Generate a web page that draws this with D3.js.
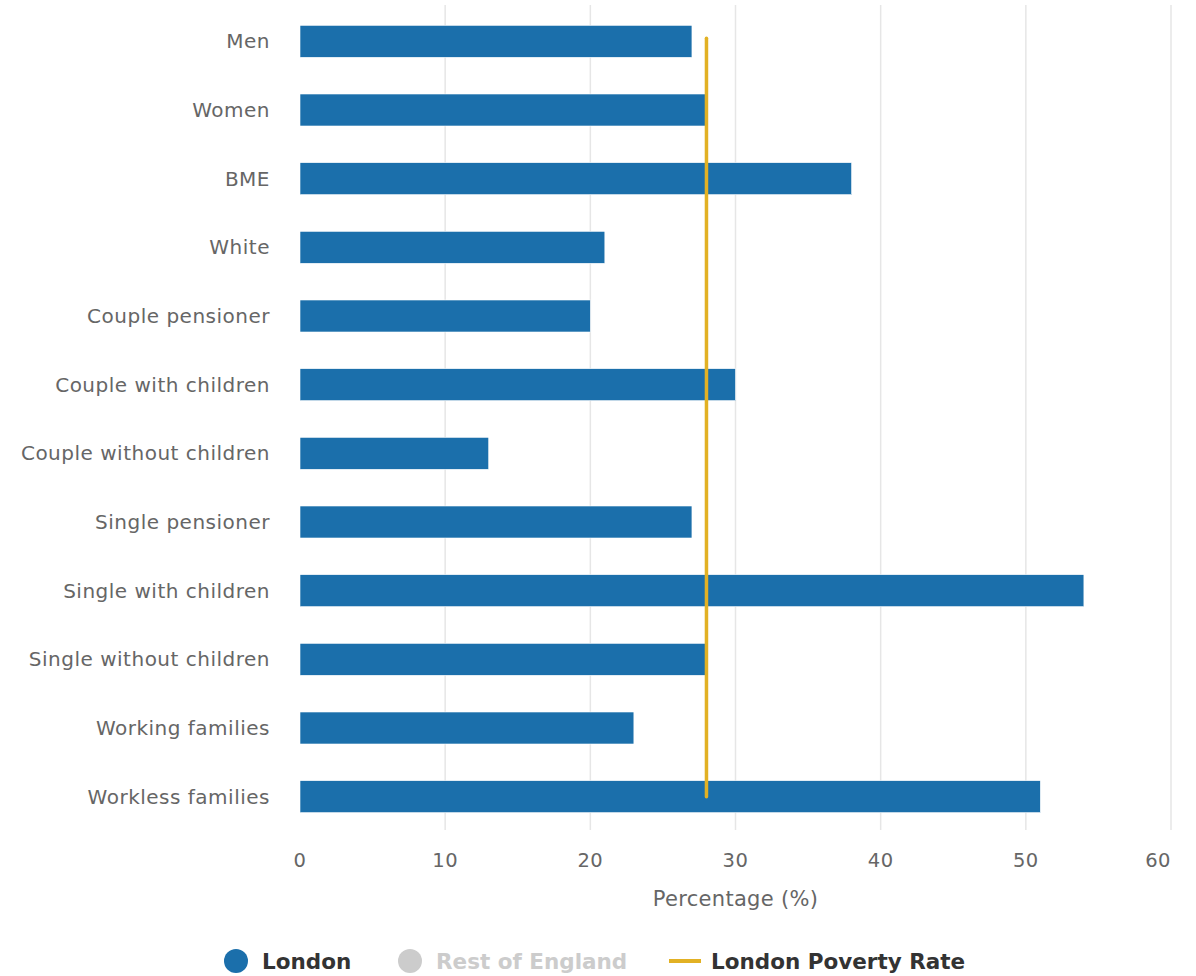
<!DOCTYPE html>
<html>
<head>
<meta charset="utf-8">
<script src="https://cdn.jsdelivr.net/npm/d3@7"></script>
<style>
  html, body { margin: 0; padding: 0; background: #fff; }
  svg { display: block; font-family: "DejaVu Sans", "Noto Sans", sans-serif; }
</style>
</head>
<body>
<svg id="chart" width="1196" height="976"></svg>
<script>
const categories = ["Men", "Women", "BME", "White", "Couple pensioner", "Couple with children",
  "Couple without children", "Single pensioner", "Single with children", "Single without children",
  "Working families", "Workless families"];
const londonValues = [27, 28, 38, 21, 20, 30, 13, 27, 54, 28, 23, 51];
const povertyRate = [28, 28, 28, 28, 28, 28, 28, 28, 28, 28, 28, 28];
const xTicks = [0, 10, 20, 30, 40, 50, 60];
const legendItems = ["London", "Rest of England", "London Poverty Rate"];
const axisTitle = "Percentage (%)";

(function () {
const svg = d3.select("#chart");
const pLeft = 300, pRight = 1171, pTop = 7, pBottom = 831;

const x = d3.scaleLinear().domain([0, 60]).range([pLeft, pRight]);
const y = d3.scaleBand().domain(categories).range([pTop, pBottom]);

const blue = "#1b6fab", gold = "#e2b124";

// gridlines
svg.append("g").selectAll("line").data(xTicks.filter(d => d !== 0)).join("line")
  .attr("x1", d => x(d)).attr("x2", d => x(d))
  .attr("y1", 5).attr("y2", 830)
  .attr("stroke", "#e6e6e6").attr("stroke-width", 1.5);

// bars
const barH = 32;
svg.append("g").selectAll("rect").data(categories).join("rect")
  .attr("x", x(0))
  .attr("y", (d) => y(d) + y.bandwidth() / 2 - barH / 2)
  .attr("width", (d, i) => x(londonValues[i]) - x(0))
  .attr("height", barH)
  .attr("fill", blue)
  .attr("stroke", "#ffffff").attr("stroke-width", 0.6);

// poverty line
const line = d3.line()
  .x((d) => x(d))
  .y((d, i) => y(categories[i]) + y.bandwidth() / 2 - 3 * (1 - i / (categories.length - 1)));
svg.append("path").datum(povertyRate)
  .attr("d", line)
  .attr("fill", "none").attr("stroke", gold).attr("stroke-width", 3.5)
  .attr("stroke-linecap", "round");

// category labels
svg.append("g").selectAll("text").data(categories).join("text")
  .attr("x", 270)
  .attr("y", d => y(d) + y.bandwidth() / 2)
  .attr("dy", "0.35em")
  .attr("text-anchor", "end")
  .attr("font-size", 20)
  .attr("letter-spacing", 0.5)
  .attr("fill", "#666666")
  .text(d => d);

// x axis labels
svg.append("g").selectAll("text").data(xTicks).join("text")
  .attr("x", d => x(d))
  .attr("y", 867)
  .attr("text-anchor", (d, i) => i === xTicks.length - 1 ? "end" : "middle")
  .attr("font-size", 19.5)
  .attr("letter-spacing", 0.5)
  .attr("fill", "#666666")
  .text(d => d);

svg.append("text")
  .attr("x", (pLeft + pRight) / 2)
  .attr("y", 906)
  .attr("text-anchor", "middle")
  .attr("font-size", 21)
  .attr("letter-spacing", 0.3)
  .attr("fill", "#666666")
  .text(axisTitle);

// legend
const lg = svg.append("g").attr("font-weight", "bold").attr("font-size", 21.5);
lg.append("circle").attr("cx", 236).attr("cy", 961).attr("r", 12).attr("fill", blue);
lg.append("text").attr("x", 262).attr("y", 969).attr("fill", "#333333").text(legendItems[0]);
lg.append("circle").attr("cx", 410).attr("cy", 961).attr("r", 12).attr("fill", "#cccccc");
lg.append("text").attr("x", 436).attr("y", 969).attr("fill", "#cccccc").text(legendItems[1]);
lg.append("line").attr("x1", 669).attr("x2", 701).attr("y1", 961).attr("y2", 961)
  .attr("stroke", gold).attr("stroke-width", 4);
lg.append("text").attr("x", 711).attr("y", 969).attr("fill", "#333333").text(legendItems[2]);
})();
</script>
</body>
</html>
